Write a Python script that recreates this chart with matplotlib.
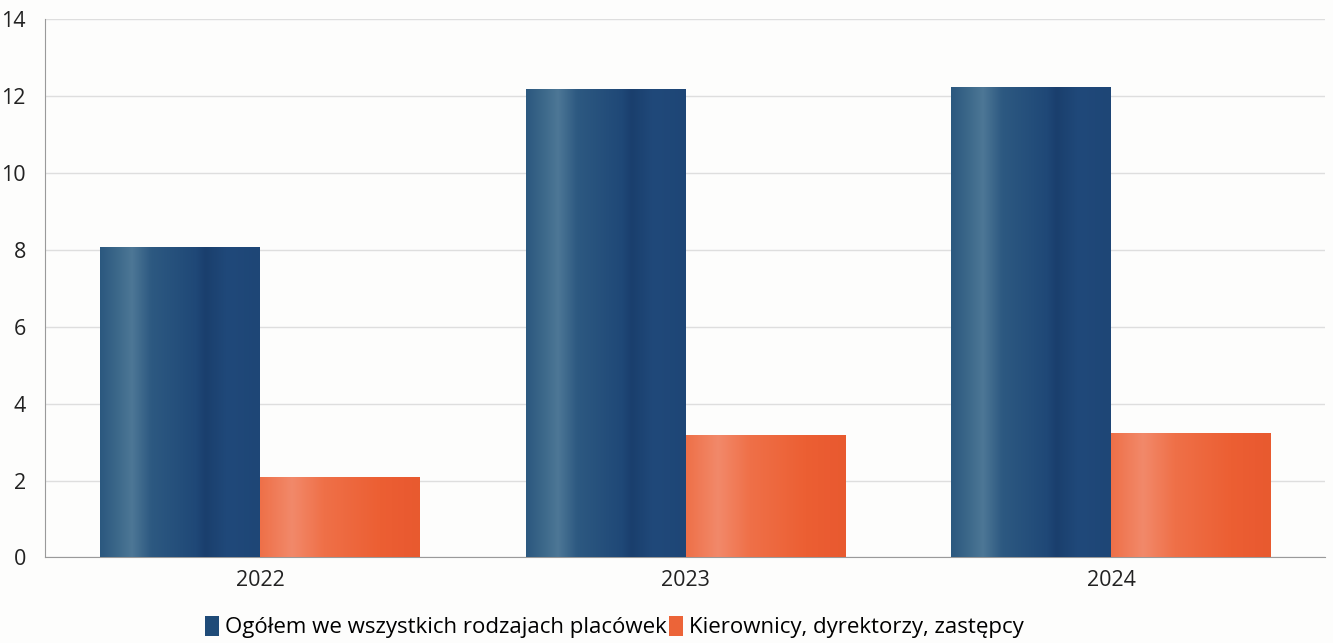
import matplotlib.pyplot as plt
import numpy as np
from matplotlib.colors import LinearSegmentedColormap

plt.rcParams["font.family"] = ["Open Sans", "DejaVu Sans"]

years = ["2022", "2023", "2024"]
total = [8.06, 12.15, 12.22]
managers = [2.08, 3.15, 3.2]
labels = ["Ogółem we wszystkich rodzajach placówek", "Kierownicy, dyrektorzy, zastępcy"]

BLUE = "#1f4b78"
ORANGE = "#ec6438"

blue_cmap = LinearSegmentedColormap.from_list(
    "blue_shade",
    [(0.0, "#2b587f"), (0.1, "#3b6789"), (0.2, "#4d7796"), (0.32, "#2d5981"),
     (0.6, "#1f4877"), (0.66, "#1a3f6d"), (0.8, "#20497a"), (1.0, "#1e4676")],
)
orange_cmap = LinearSegmentedColormap.from_list(
    "orange_shade",
    [(0.0, "#ee7048"), (0.2, "#f2896a"), (0.4, "#ef7048"), (0.75, "#ec5f33"),
     (0.9, "#ea5b31"), (1.0, "#e85a2f")],
)


def shade_bars(ax, bars, cmap):
    grad = np.linspace(0, 1, 256).reshape(1, -1)
    for b in bars:
        x, w, h = b.get_x(), b.get_width(), b.get_height()
        ax.imshow(grad, cmap=cmap, extent=[x, x + w, 0, h], aspect="auto",
                  zorder=3, interpolation="bilinear")


fig, ax = plt.subplots(figsize=(13.33, 6.43), dpi=100)
fig.patch.set_facecolor("#fdfdfc")
ax.set_facecolor("#fdfdfc")

x = np.arange(len(years))
width = 0.376
b1 = ax.bar(x - width / 2, total, width, color=BLUE, label=labels[0], zorder=2)
b2 = ax.bar(x + width / 2, managers, width, color=ORANGE, label=labels[1], zorder=2)
shade_bars(ax, b1, blue_cmap)
shade_bars(ax, b2, orange_cmap)

ax.set_xlim(-0.505, 2.503)
ax.set_ylim(0, 14)
ax.set_yticks(range(0, 15, 2))
ax.set_xticks(x)
ax.set_xticklabels(years)
ax.tick_params(axis="both", length=0, labelsize=15.5, colors="#222222")
ax.tick_params(axis="y", pad=14)
ax.tick_params(axis="x", pad=9)
ax.yaxis.grid(True, color="#dedede", linewidth=1)
ax.set_axisbelow(True)
for side in ["top", "right"]:
    ax.spines[side].set_visible(False)
ax.spines["left"].set_color("#9a9a9a")
ax.spines["bottom"].set_color("#9a9a9a")

ax.legend(loc="upper center", bbox_to_anchor=(0.445, -0.092), ncol=2, frameon=False,
          fontsize=16, handlelength=0.6, handleheight=1.0, handletextpad=0.3,
          columnspacing=0.1, borderaxespad=0.0)

fig.subplots_adjust(left=0.034, right=0.994, top=0.97, bottom=0.133)
fig.savefig("out.png", dpi=100, facecolor=fig.get_facecolor())
